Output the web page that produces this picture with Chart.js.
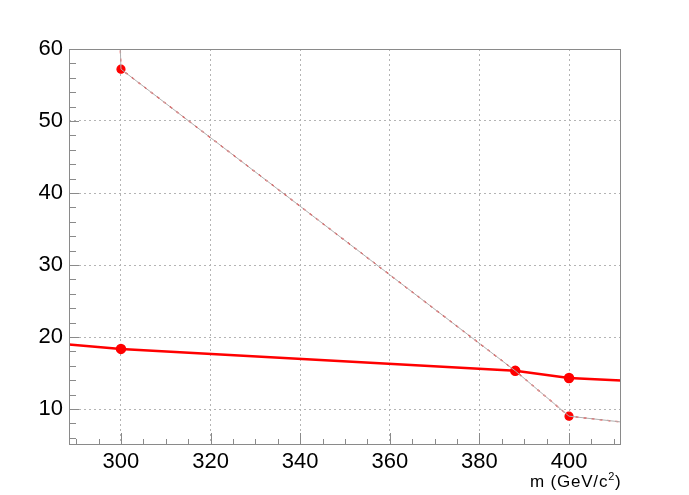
<!DOCTYPE html>
<html><head><meta charset="utf-8">
<script src="https://cdn.jsdelivr.net/npm/chart.js@4.4.1/dist/chart.umd.min.js"></script>
<style>html,body{margin:0;padding:0;background:#fff;}canvas{display:block;}</style>
</head><body>
<canvas id="c" width="689" height="495"></canvas>
<script>
// Data
const xTicks = [300, 320, 340, 360, 380, 400];
const yTicks = [10, 20, 30, 40, 50, 60];
const xRange = [288.4, 411.6];
const yRange = [5, 60];
// thick red curve
const xThick = [288.4, 300, 388, 400, 411.6];
const yThick = [18.95, 18.35, 15.3, 14.3, 13.95];
const thickMarkers = [false, true, true, true, false];
// thin red curve
const xThin = [299.75, 300, 388, 400, 411.6];
const yThin = [62, 57.2, 15.3, 9.0, 8.2];
const thinMarkers = [false, true, true, true, false];
const axisTitleParts = ['m (GeV/c', '2', ')'];

const toPts = (xs, ys) => xs.map((x, i) => ({x: x, y: ys[i]}));
const radii = (m, r) => m.map(v => v ? r : 0);

const rootFrame = {
  id: 'rootFrame',
  afterDatasetsDraw(chart) {
    const {ctx, chartArea: a, scales: {x, y}} = chart;
    ctx.save();
    ctx.strokeStyle = '#8a8a8a';
    ctx.lineWidth = 1;
    ctx.strokeRect(a.left + 0.5, a.top + 0.5, a.right - a.left - 1, a.bottom - a.top - 1);
    ctx.beginPath();
    for (let v = 290; v <= 411; v += 5) {
      const px = Math.round(x.getPixelForValue(v)) + 0.5;
      const len = (v % 20 === 0) ? 12 : 6;
      ctx.moveTo(px, a.bottom); ctx.lineTo(px, a.bottom - len);
    }
    for (let v = 6; v <= 60; v += 2) {
      const py = Math.round(y.getPixelForValue(v)) + 0.5;
      const len = (v % 10 === 0) ? 10 : 7;
      ctx.moveTo(a.left, py); ctx.lineTo(a.left + len, py);
    }
    ctx.stroke();
    // axis title with superscript
    ctx.fillStyle = '#000';
    ctx.textAlign = 'left';
    ctx.textBaseline = 'alphabetic';
    const fam = '"Liberation Sans", Arial, sans-serif';
    let tx = 530;
    const base = 487;
    if ('letterSpacing' in ctx) ctx.letterSpacing = '0.8px';
    ctx.font = '17px ' + fam;
    ctx.fillText(axisTitleParts[0], tx, base);
    tx += ctx.measureText(axisTitleParts[0]).width;
    ctx.font = '11px ' + fam;
    ctx.fillText(axisTitleParts[1], tx, base - 7);
    tx += ctx.measureText(axisTitleParts[1]).width;
    ctx.font = '17px ' + fam;
    ctx.fillText(axisTitleParts[2], tx, base);
    ctx.restore();
  }
};

new Chart(document.getElementById('c'), {
  type: 'line',
  data: {
    datasets: [
      {data: toPts(xThin, yThin), borderColor: '#b0b0b0', borderWidth: 1, pointRadius: 0, tension: 0},
      {data: toPts(xThin, yThin), borderColor: '#ff0000', borderWidth: 1.2, borderDash: [3, 5],
       pointRadius: radii(thinMarkers, 4), pointBackgroundColor: '#ff0000', pointBorderColor: '#ff0000', tension: 0},
      {data: toPts(xThick, yThick), borderColor: '#ff0000', borderWidth: 2.5,
       pointRadius: radii(thickMarkers, 4), pointBackgroundColor: '#ff0000', pointBorderColor: '#ff0000', tension: 0}
    ]
  },
  options: {
    responsive: false,
    animation: false,
    devicePixelRatio: 1,
    layout: {padding: {left: 0, top: 49, right: 68, bottom: 0}},
    plugins: {legend: {display: false}, tooltip: {enabled: false}},
    elements: {point: {borderWidth: 0}},
    scales: {
      x: {
        type: 'linear', min: xRange[0], max: xRange[1],
        afterBuildTicks: s => { s.ticks = xTicks.map(v => ({value: v})); },
        afterFit: s => { s.height = 50; },
        grid: {color: '#b4b4b4', lineWidth: 1, drawTicks: false},
        border: {display: false, dash: [2, 3]},
        ticks: {color: '#000', padding: 4, font: {size: 22, family: '"Liberation Sans", Arial, sans-serif'}, maxRotation: 0}
      },
      y: {
        type: 'linear', min: yRange[0], max: yRange[1],
        afterBuildTicks: s => { s.ticks = yTicks.map(v => ({value: v})); },
        afterFit: s => { s.width = 69; },
        grid: {color: '#b4b4b4', lineWidth: 1, drawTicks: false},
        border: {display: false, dash: [2, 3]},
        ticks: {color: '#000', padding: 6, font: {size: 22, family: '"Liberation Sans", Arial, sans-serif'}}
      }
    }
  },
  plugins: [rootFrame]
});
</script>
</body></html>
